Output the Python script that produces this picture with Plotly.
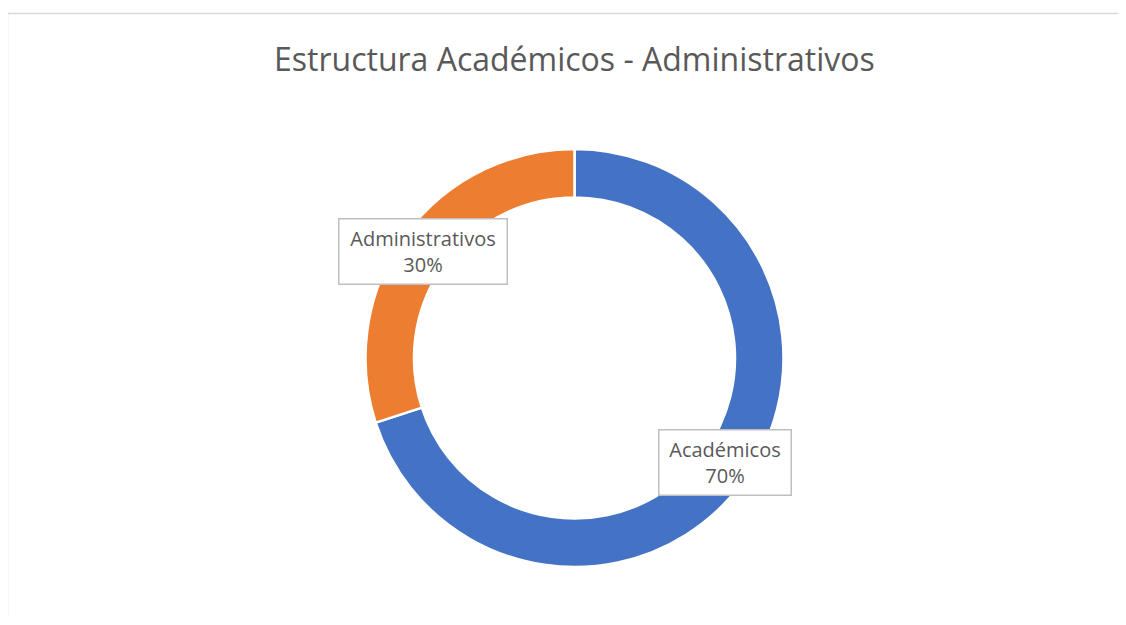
import plotly.graph_objects as go

categories = ["Académicos", "Administrativos"]
values = [70, 30]
colors = ["#4472C4", "#ED7D31"]
title_text = "Estructura Académicos - Administrativos"

# page body adds an 8px offset; work in page pixel coords and subtract it
OFF = 8
W, H = 1110, 609
cx, cy, R = 574.5 - OFF, 358 - OFF, 209

total = sum(values)
pct = [round(v / total * 100) for v in values]

fig = go.Figure()
fig.add_trace(go.Pie(
    labels=categories, values=values, sort=False, direction="clockwise", rotation=0,
    hole=0.768, textinfo="none", hoverinfo="label+percent",
    marker=dict(colors=colors, line=dict(color="white", width=2.5)),
    domain=dict(x=[(cx - R) / W, (cx + R) / W], y=[(H - cy - R) / H, (H - cy + R) / H]),
    showlegend=False,
))

label_pos = {"Académicos": (724.5, 462), "Administrativos": (422.5, 251.5)}
label_w = {"Académicos": 131, "Administrativos": 167}
for c, p in zip(categories, pct):
    x, y = label_pos[c]
    fig.add_annotation(
        x=(x - OFF) / W, y=1 - (y - OFF) / H, xref="paper", yref="paper", showarrow=False,
        xanchor="center", yanchor="middle",
        text=f"{c}<br>{p}%", align="center",
        font=dict(family="Open Sans, Calibri, sans-serif", size=20, color="#595959"),
        bgcolor="white", bordercolor="#bfbfbf", borderwidth=1.5, borderpad=0,
        width=label_w[c], height=64,
    )

fig.add_annotation(
    x=(574 - OFF) / W, y=1 - (58 - OFF) / H, xref="paper", yref="paper", showarrow=False,
    xanchor="center", yanchor="middle",
    text=title_text,
    font=dict(family="Open Sans, Calibri, sans-serif", size=32, color="#595959"),
)

fig.add_shape(type="rect", xref="paper", yref="paper",
              x0=(7.5 - OFF) / W, x1=1.02, y0=-0.02, y1=1 - (13.5 - OFF) / H,
              line=dict(color="#d9d9d9", width=1.5), fillcolor="rgba(0,0,0,0)", layer="below")

fig.update_layout(
    width=W, height=H, margin=dict(l=0, r=0, t=0, b=0),
    paper_bgcolor="white", plot_bgcolor="white",
)
fig.write_html("out.html")
